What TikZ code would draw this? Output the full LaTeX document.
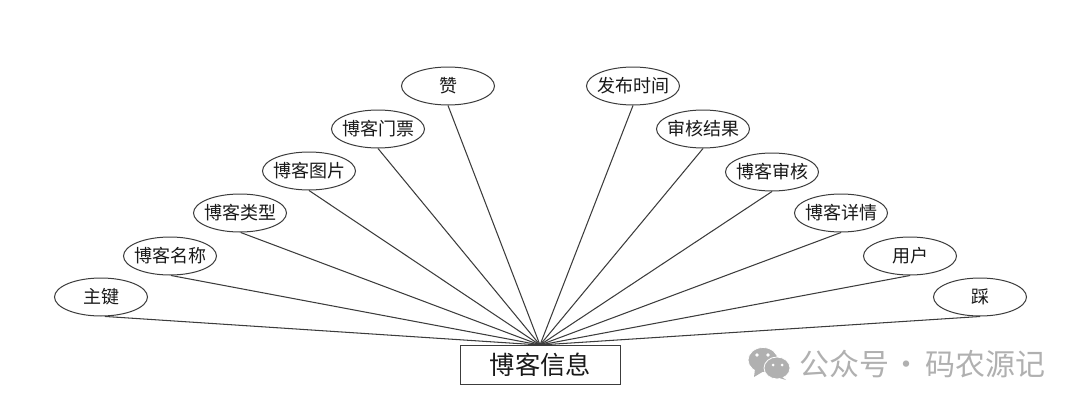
\documentclass[tikz,border=0pt]{standalone}
\usepackage{fontspec}
\setmainfont{Noto Sans CJK SC}
\usetikzlibrary{shapes.geometric}
\definecolor{ln}{HTML}{3C3C3C}
\definecolor{wm}{HTML}{B0B0B0}
\tikzset{
  attr/.style={ellipse,draw=ln,line width=1pt,fill=white,minimum width=93pt,minimum height=38pt,inner sep=-9pt,font=\fontsize{18}{20}\selectfont,text=black!90},
  entity/.style={rectangle,draw=ln,line width=0.9pt,fill=white,minimum width=160pt,minimum height=39pt,inner sep=0pt,font=\fontsize{25.3}{27}\selectfont,text=black!90},
  link/.style={draw=ln,line width=1.05pt},
  mark text/.style={text=wm,font=\fontsize{30}{32}\selectfont,inner sep=0pt,anchor=west},
  bubble/.style={ellipse,fill=wm,draw=white,line width=0.8pt,inner sep=0pt}
}
\begin{document}
\begin{tikzpicture}[x=1pt,y=-1pt]
\useasboundingbox (0,0) rectangle (1080,407);
\coordinate (hub) at (540,345);
\node[attr] (a1) at (101,297) {主键};
\node[attr] (a2) at (170,256) {博客名称};
\node[attr] (a3) at (240,213) {博客类型};
\node[attr] (a4) at (309,171) {博客图片};
\node[attr] (a5) at (378,129) {博客门票};
\node[attr] (a6) at (448,86) {赞};
\node[attr] (b1) at (633,86) {发布时间};
\node[attr] (b2) at (703,129) {审核结果};
\node[attr] (b3) at (772,172) {博客审核};
\node[attr] (b4) at (841,213) {博客详情};
\node[attr] (b5) at (910,256) {用户};
\node[attr] (b6) at (980,297) {踩};
\node[entity] (e) at (540.5,364.5) {博客信息};
\foreach \n/\ang in {a1/281,a2/273,a3/272,a4/270,a5/270,a6/270,b1/270,b2/270,b3/270,b4/270,b5/270,b6/270}
  \draw[link] (\n.\ang) -- (hub);
% watermark
\node[bubble,minimum width=30pt,minimum height=25pt] (w1) at (763,360) {};
\fill[wm] (755,369) -- (754,377) -- (764,371) -- cycle;
\node[bubble,minimum width=26pt,minimum height=22pt] (w2) at (777,368) {};
\fill[wm] (782,377) -- (786,380) -- (776,377) -- cycle;
\fill[white] (757,355) circle (1.8pt) (768,355) circle (1.8pt) (773,365) circle (1.5pt) (782,365) circle (1.5pt);
\node[mark text] (w3) at (799,364) {公众号\hspace{2.5pt}·\hspace{3.5pt}码农源记};
\end{tikzpicture}
\end{document}
